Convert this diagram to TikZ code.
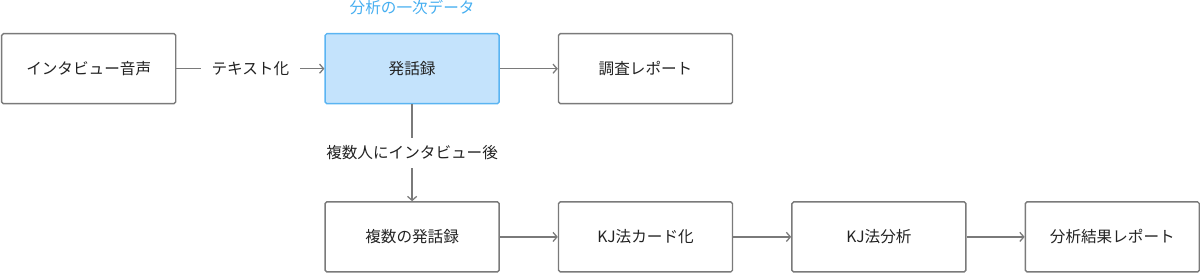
\documentclass[tikz,border=0pt]{standalone}
\usepackage{fontspec}
\setmainfont{Noto Sans CJK JP}
\usetikzlibrary{positioning,arrows.meta}

\definecolor{edgegray}{HTML}{7A7A7A}
\definecolor{inkgray}{HTML}{222222}
\definecolor{keyblue}{HTML}{C4E3FC}
\definecolor{keyline}{HTML}{5AB4F2}
\definecolor{notetext}{HTML}{45AEF0}

\begin{document}
\begin{tikzpicture}[
  node distance=1.45cm,
  font=\fontsize{11.1pt}{13pt}\selectfont,
  every node/.style={text=inkgray},
  stage/.style={draw=edgegray, line width=1pt, rounded corners=1.2pt,
    minimum width=4.35cm, minimum height=1.75cm, inner sep=0pt},
  keystage/.style={stage, draw=keyline, fill=keyblue},
  arr/.style={-{Straight Barb[length=1mm, width=2.3mm]}, draw=edgegray, line width=0.9pt},
  elbl/.style={fill=white, inner xsep=0.27cm, inner ysep=0.2cm},
]
  \useasboundingbox (0,0) rectangle (30,-6.85);

  % Top row
  \node[stage, anchor=north west] (audio) at (0.025,-0.825) {インタビュー音声};
  \node[keystage, right=3.7cm of audio] (script) {発話録};
  \node[stage, right=of script] (survey) {調査レポート};
  \node[above=0.33cm of script, text=notetext] (note) {分析の一次データ};

  % Bottom row
  \node[stage, below=2.42cm of script] (scripts) {複数の発話録};
  \node[stage, right=of scripts] (cards) {KJ法カード化};
  \node[stage, right=of cards] (kj) {KJ法分析};
  \node[stage, right=of kj] (result) {分析結果レポート};

  % Connectors
  \draw[arr] (audio) -- node[elbl] {テキスト化} (script);
  \draw[arr] (script) -- (survey);
  \draw[arr] (script) -- node[elbl, inner xsep=0pt] {複数人にインタビュー後} (scripts);
  \draw[arr] (scripts) -- (cards);
  \draw[arr] (cards) -- (kj);
  \draw[arr] (kj) -- (result);
\end{tikzpicture}
\end{document}
